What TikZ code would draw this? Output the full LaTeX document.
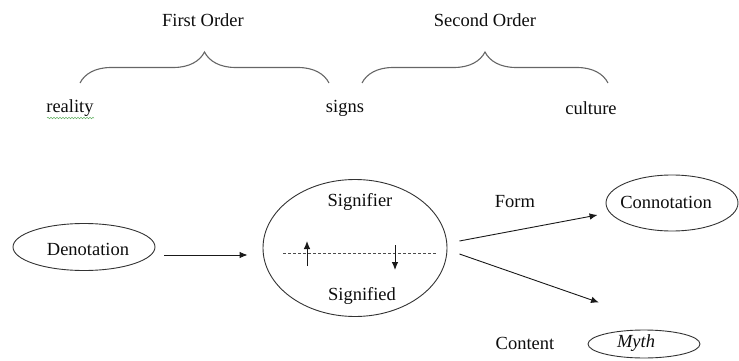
\documentclass[tikz,border=0pt]{standalone}
\usepackage{fontspec}
\setmainfont{Liberation Serif}
\usetikzlibrary{shapes.geometric,arrows.meta,decorations.pathreplacing,decorations.pathmorphing}
\begin{document}
\begin{tikzpicture}[x=1pt,y=-1pt,
  txt/.style={font=\fontsize{18.5}{22}\selectfont, text=black!95, inner sep=0pt},
  ell/.style={ellipse, draw=black!80, line width=0.9pt, inner sep=0pt},
  arr/.style={-{Latex[length=8pt,width=6.5pt]}, line width=0.9pt, draw=black!90},
  bracestyle/.style={decorate, decoration={brace, amplitude=31pt}, draw=black!60, line width=1.1pt}
]
\useasboundingbox (0,0) rectangle (739,361);
% top labels
\node[txt] (fo) at (203,20) {First Order};
\node[txt] (so) at (485,20) {Second Order};
\coordinate (b1l) at (80,83);
\coordinate (b1r) at (329,83);
\coordinate (b2l) at (362,83);
\coordinate (b2r) at (608,83);
\draw[bracestyle] (b1l) -- (b1r);
\draw[bracestyle] (b2l) -- (b2r);
\node[txt] (real) at (70,108) {reality};
\coordinate (sq1) at (47,118);
\coordinate (sq2) at (94,118);
\draw[green!50!black!60, line width=0.5pt, decorate, decoration={snake, amplitude=0.8pt, segment length=3pt}] (sq1) -- (sq2);
\node[txt] (signs) at (345,108) {signs};
\node[txt] (cult) at (591,108) {culture};
% denotation
\node[ell, minimum width=142pt, minimum height=47pt] (den) at (84,247) {};
\node[txt] (dent) at (88,249) {Denotation};
% big ellipse
\node[ell, minimum width=184pt, minimum height=137pt] (sig) at (355,248) {};
\node[txt] (sfr) at (360,202) {Signifier};
\node[txt] (sfd) at (362,296) {Signified};
\coordinate (dl) at (283,253);
\coordinate (dr) at (437,253);
\draw[dashed, dash pattern=on 3pt off 2pt, line width=0.5pt, draw=black!70] (dl) -- (dr);
\coordinate (u1) at (307,266);
\coordinate (u2) at (307,241);
\coordinate (d1) at (395,245);
\coordinate (d2) at (395,270);
\draw[arr] (u1) -- (u2);
\draw[arr] (d1) -- (d2);
% connotation & myth
\node[ell, minimum width=132pt, minimum height=56pt] (con) at (672,203) {};
\node[txt] (cont) at (666,202) {Connotation};
\node[ell, minimum width=112pt, minimum height=28pt] (myth) at (644,344) {};
\node[txt, font=\fontsize{18.5}{22}\selectfont\itshape] (mytht) at (636,343) {Myth};
\node[txt] (form) at (515,202) {Form};
\node[txt] (content) at (525,343) {Content};
% arrows
\draw[arr] ([xshift=9pt,yshift=-8pt]den.east) -- ([xshift=-15pt,yshift=-7pt]sig.west);
\draw[arr] ([xshift=12pt,yshift=7pt]sig.east) -- ([xshift=-8pt,yshift=-12pt]con.west);
\draw[arr] ([xshift=12pt,yshift=-6pt]sig.east) -- ([xshift=-45pt,yshift=27pt]myth.north);
\end{tikzpicture}
\end{document}
